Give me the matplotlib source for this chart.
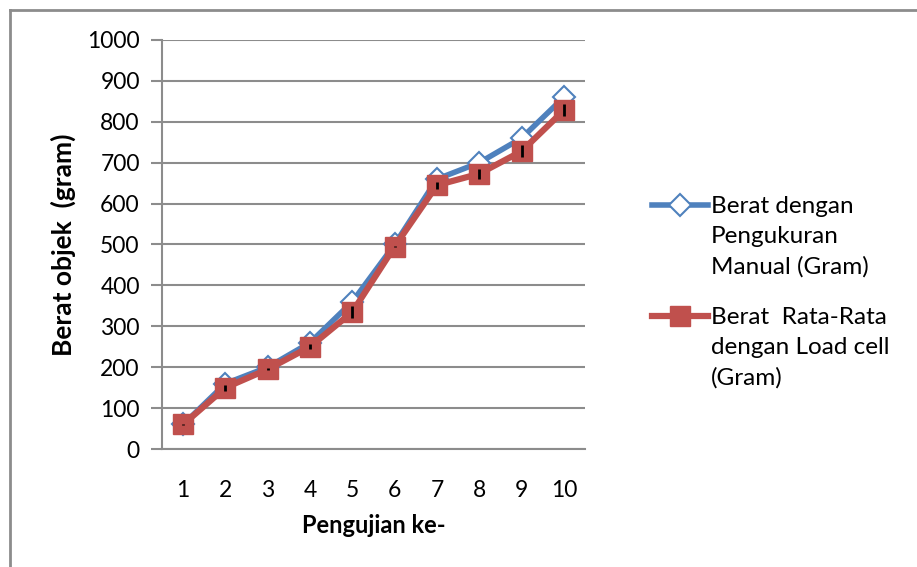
import matplotlib
matplotlib.use("Agg")
import matplotlib.pyplot as plt
from matplotlib.lines import Line2D
import numpy as np

plt.rcParams['font.family'] = ['Lato', 'DejaVu Sans']

# data pengujian
pengujian = [1, 2, 3, 4, 5, 6, 7, 8, 9, 10]
berat_manual = [60, 160, 200, 260, 360, 500, 660, 700, 760, 860]
berat_loadcell = [60, 150, 195, 250, 335, 495, 645, 673, 728, 828]
err_loadcell = [1, 7, 2, 6, 14, 1, 9, 12, 15, 15]
yticks = [0, 100, 200, 300, 400, 500, 600, 700, 800, 900, 1000]

biru = '#4F81BD'
merah = '#C0504D'
abu = '#8C8C8C'

fig = plt.figure(figsize=(9.17, 5.67), dpi=100)
ax = fig.add_axes([162/917, 1 - 449/567, 423/917, 409/567])

x = np.arange(len(pengujian))
ax.plot(x, berat_manual, color=biru, lw=4, marker='D', ms=11,
        mfc='white', mec=biru, mew=1.5, zorder=3)
ax.plot(x, berat_loadcell, color=merah, lw=4.5, marker='s', ms=14,
        mfc=merah, mec=merah, zorder=4)
ax.errorbar(x, berat_loadcell, yerr=err_loadcell, fmt='none',
            ecolor='black', elinewidth=2, capsize=0, zorder=5)

ax.set_xlim(-0.5, len(pengujian) - 0.5)
ax.set_ylim(0, 1000)
ax.set_yticks(yticks)
ax.set_xticks(x)
ax.set_xticklabels([str(p) for p in pengujian])
ax.yaxis.grid(True, color=abu, lw=1.5)
ax.set_axisbelow(True)

for s in ['top', 'right', 'bottom']:
    ax.spines[s].set_visible(False)
ax.spines['left'].set_color(abu)
ax.spines['left'].set_linewidth(1.5)
ax.tick_params(axis='y', length=8, color=abu, width=1.5, labelsize=16.5, pad=8)
ax.tick_params(axis='x', length=0, labelsize=16.5, pad=22)

# gridline paling bawah
ax.axhline(0, color=abu, lw=1.5, clip_on=False, zorder=1)

ax.set_ylabel('Berat objek  (gram)', fontsize=19, fontweight='bold', labelpad=8)
ax.set_xlabel('Pengujian ke-', fontsize=17, fontweight='bold', labelpad=10)

# legenda
fig.add_artist(Line2D([652/917, 708/917], [1 - 205/567, 1 - 205/567], color=biru, lw=4,
                      transform=fig.transFigure))
fig.add_artist(Line2D([680/917], [1 - 205/567], color=biru, marker='D', ms=11,
                      mfc='white', mec=biru, mew=1.5, transform=fig.transFigure))
fig.add_artist(Line2D([652/917, 708/917], [1 - 316/567, 1 - 316/567], color=merah, lw=4.5,
                      transform=fig.transFigure))
fig.add_artist(Line2D([680/917], [1 - 316/567], color=merah, marker='s', ms=14,
                      mfc=merah, mec=merah, transform=fig.transFigure))
fig.text(711/917, 1 - 196/567, 'Berat dengan\nPengukuran\nManual (Gram)', fontsize=17.5,
         va='top', ha='left', linespacing=1.52)
fig.text(711/917, 1 - 307/567, 'Berat  Rata-Rata\ndengan Load cell\n(Gram)', fontsize=17.5,
         va='top', ha='left', linespacing=1.52)

# bingkai chart
fig.add_artist(Line2D([9.5/917, 1], [1 - 10/567, 1 - 10/567], color=abu, lw=2,
                      transform=fig.transFigure))
fig.add_artist(Line2D([9.5/917, 9.5/917], [0, 1 - 10/567], color=abu, lw=2,
                      transform=fig.transFigure))

fig.savefig('out.png', dpi=100)
